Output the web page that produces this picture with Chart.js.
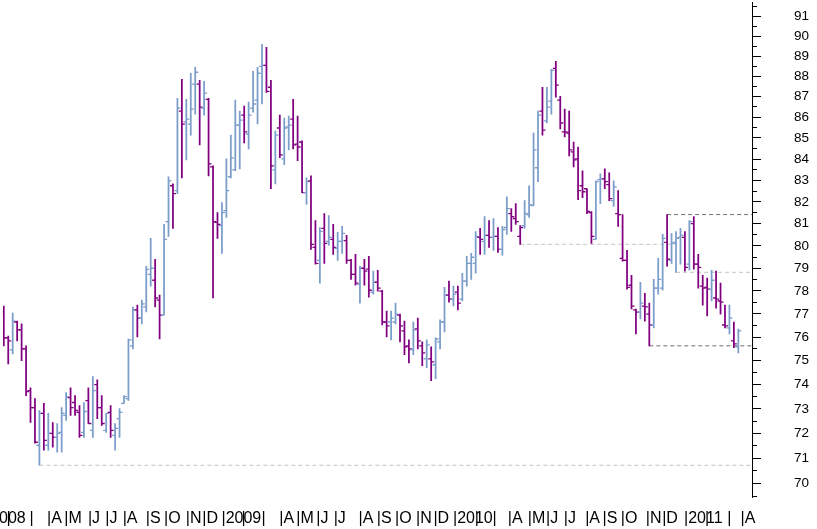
<!DOCTYPE html>
<html><head><meta charset="utf-8">
<script src="https://cdn.jsdelivr.net/npm/chart.js@4"></script>
<style>html,body{margin:0;padding:0;background:#fff;overflow:hidden}</style>
</head><body>
<canvas id="c" width="817" height="529" style="display:block;width:817px;height:529px"></canvas>
<script>
// Weekly OHLC values (one entry per week, oldest first)
const opens = [77.08,75.97,75.46,76.65,76.31,75.50,73.75,73.05,71.52,72.81,71.52,72.00,71.84,72.04,72.73,73.46,73.26,72.85,72.04,73.34,
72.12,74.00,73.05,72.12,72.85,71.92,72.60,73.22,73.42,75.63,77.17,76.82,77.30,78.73,78.47,77.60,76.95,81.10,82.75,82.52,
86.29,85.77,85.67,87.61,87.61,86.44,86.87,83.63,81.06,80.92,81.60,83.17,83.49,85.62,86.10,85.19,86.44,86.83,88.49,88.54,
87.46,83.49,85.48,84.01,85.53,85.91,84.71,84.81,82.43,82.98,79.93,79.35,80.79,80.20,80.29,79.89,80.20,80.24,79.35,78.73,
78.29,79.00,78.96,77.95,78.38,77.99,76.65,76.65,76.65,76.95,76.27,75.63,75.46,76.35,75.63,75.08,75.08,74.83,75.80,76.65,
77.82,77.64,77.95,77.64,78.43,79.22,79.22,80.38,80.20,80.47,80.38,80.43,79.84,80.83,81.46,81.24,80.43,80.92,81.42,81.83,
83.59,86.29,85.82,86.78,88.39,86.83,85.29,85.24,84.34,84.01,82.75,82.61,81.51,80.29,83.03,83.07,82.80,82.06,81.46,79.44,
79.35,78.25,77.17,77.08,77.34,76.99,76.52,78.12,78.12,80.16,79.35,80.16,80.38,80.38,79.18,81.01,79.18,78.21,78.16,78.08,
77.69,77.56,76.52,76.40,75.84,75.59];
const highs = [77.34,76.05,77.04,76.69,76.57,75.63,73.87,73.42,72.93,73.22,72.81,72.44,72.40,73.05,73.67,73.87,73.54,73.13,73.26,73.87,
74.33,74.20,73.54,72.81,73.13,72.40,73.01,73.54,75.92,77.30,77.38,77.60,79.09,80.34,79.40,77.82,80.97,83.17,82.84,86.92,
87.85,86.87,88.15,88.44,87.80,87.75,86.92,83.68,81.51,81.97,84.01,85.14,86.83,86.29,86.54,86.73,88.25,88.44,89.59,89.44,
87.80,85.33,86.10,85.96,86.05,86.87,86.05,84.86,83.12,83.21,81.15,80.83,81.47,81.37,80.97,80.61,80.88,80.47,79.40,79.62,
79.09,79.40,79.53,78.87,78.91,78.03,77.12,77.12,77.47,76.99,76.69,75.88,76.65,76.82,75.80,75.88,75.59,75.97,76.74,78.16,
78.43,78.21,78.21,78.78,79.53,79.66,80.65,80.79,81.33,81.15,81.24,80.83,80.88,82.24,81.69,81.92,80.92,82.06,82.75,85.24,
86.29,87.46,87.46,88.34,88.74,87.02,86.39,86.29,84.81,84.57,83.45,82.61,81.56,82.98,83.31,83.54,83.35,82.98,82.52,81.42,
79.80,78.69,77.21,78.38,77.90,77.47,78.51,79.44,80.52,81.42,80.56,80.65,80.79,80.65,81.15,81.33,79.62,78.69,78.56,78.91,
78.87,78.34,77.38,77.38,76.65,76.35];
const lows = [75.63,74.87,75.29,75.84,75.00,73.54,72.44,71.60,70.72,71.32,71.32,71.44,71.24,71.24,72.52,72.73,72.73,71.84,71.84,72.40,
71.84,72.60,72.32,72.04,71.84,71.32,71.84,73.22,73.34,75.50,76.01,76.57,77.08,78.21,77.30,75.92,76.95,80.43,80.79,82.38,
83.12,83.96,85.14,86.15,84.67,86.10,83.21,77.69,80.34,79.66,81.29,83.12,83.45,83.54,84.76,84.48,86.24,85.67,86.64,87.20,
82.61,82.84,84.06,83.73,84.43,84.48,83.92,82.43,81.88,79.84,79.18,78.34,79.22,80.02,79.62,79.35,79.66,79.22,78.51,78.25,
77.47,78.25,77.73,77.86,77.99,76.52,76.01,75.88,76.57,75.80,75.25,74.91,75.25,75.50,74.79,74.71,74.16,74.25,75.50,76.22,
77.51,77.34,77.17,77.56,78.21,78.51,78.78,79.62,79.62,79.93,79.80,79.71,79.58,80.52,80.65,80.97,80.07,80.79,81.29,81.83,
82.94,85.14,85.72,86.15,86.97,85.43,85.05,84.15,83.63,82.11,82.20,81.46,80.11,80.29,81.92,82.61,82.06,81.79,80.88,79.31,
78.08,77.21,76.14,76.78,76.69,75.63,76.40,77.86,78.03,79.09,79.22,78.82,79.18,78.87,78.91,78.96,78.12,77.38,76.91,77.56,
77.25,76.99,76.40,76.14,75.55,75.33];
const closes = [75.97,75.84,76.69,76.31,75.50,73.71,73.05,71.64,72.81,71.72,72.00,71.84,72.00,72.81,73.50,73.05,72.93,71.92,72.89,72.40,
73.75,73.05,72.40,72.81,72.12,72.20,72.85,73.50,75.88,77.17,76.82,77.43,78.95,79.00,77.69,76.95,80.29,82.98,82.38,86.44,
85.67,85.91,86.39,88.20,86.49,87.17,83.77,81.10,80.97,81.51,82.52,84.06,85.62,85.86,85.29,86.10,86.64,88.15,88.54,87.26,
83.68,85.14,84.20,85.48,85.62,84.67,84.57,82.43,82.94,80.07,79.22,80.65,80.11,80.38,79.93,80.20,80.56,79.35,78.73,78.34,
79.00,78.87,78.03,78.38,78.12,76.65,76.48,76.82,76.99,76.48,75.59,75.50,76.31,75.84,75.33,75.67,74.95,75.92,76.65,77.82,
77.64,77.86,77.47,78.43,79.22,79.49,80.43,80.29,80.47,80.38,80.43,79.84,80.74,81.69,81.33,81.10,80.83,81.47,81.88,84.43,
86.10,85.38,86.49,88.29,87.56,85.72,85.29,84.43,83.96,82.52,82.47,81.56,80.43,82.94,83.07,82.94,82.15,82.70,81.42,79.35,
78.16,77.34,77.08,77.47,77.30,76.52,78.12,78.51,80.34,79.40,80.11,80.34,80.47,79.04,81.10,79.18,79.04,78.12,78.08,78.47,
77.64,77.51,76.48,76.82,75.71,76.27];

// Price axis ticks (labelled) and half-unit minor ticks
const yTicks = [70,71,72,73,74,75,76,77,78,79,80,81,82,83,84,85,86,87,88,89,90,91];
const yMinorTicks = [69.5,70.5,71.5,72.5,73.5,74.5,75.5,76.5,77.5,78.5,79.5,80.5,81.5,82.5,83.5,84.5,85.5,86.5,87.5,88.5,89.5,90.5,91.5];

// Month starts, in week-index units, and their labels
const monthPos = [-4.0,0.6,5.8,9.7,13.6,18.9,22.8,26.7,31.9,36.0,40.9,44.6,
48.9,53.4,57.9,61.9,65.7,70.2,74.1,79.7,83.8,87.9,92.6,96.5,
100.9,105.8,109.8,113.2,117.7,121.8,125.8,130.6,134.5,138.6,144.2,147.9,
152.8,157.5,162.5,165.5];
const monthLabels = ['|2008','|','|','|A','|M','|J','|J','|A','|S','|O','|N','|D',
'|2009','|','|','|A','|M','|J','|J','|A','|S','|O','|N','|D',
'|2010','|','|','|A','|M','|J','|J','|A','|S','|O','|N','|D',
'|2011','|','|','|A'];

// Support / resistance levels: [start week, end week (null = right edge), price]
const lightLevels = [[8,null,70.72],[116,151,80.07],[151,null,78.82]];
const darkLevels = [[149,null,81.42],[145,null,75.63]];

const X_MIN = -0.224, X_MAX = 168.07, Y_MIN = 69.47, Y_MAX = 91.71;
const PURPLE = '#800080', BLUE = '#7b9dca';
const FONT = "'Liberation Sans', Arial, sans-serif";

const weekIdx = closes.map((_, i) => i);
const colors = closes.map((c, i) => (i === 0 ? c >= opens[0] : c >= closes[i - 1]) ? BLUE : PURPLE);

function levelDataset(lv, color) {
  return {
    type: 'line',
    data: [{x: lv[0], y: lv[2]}, {x: lv[1] === null ? X_MAX : lv[1], y: lv[2]}],
    borderColor: color, borderWidth: 1, borderDash: [4, 3],
    pointRadius: 0, fill: false, order: 5
  };
}

const datasets = [
  {
    type: 'bar',
    data: weekIdx.map(i => ({x: i, y: [lows[i], highs[i]]})),
    backgroundColor: colors, borderWidth: 0, barThickness: 1.1, grouped: false, order: 2
  },
  {
    type: 'scatter',
    data: weekIdx.map(i => ({x: i - 0.336, y: opens[i]})),
    pointStyle: 'line', pointRadius: 1.5, pointBorderWidth: 1.3, pointBorderColor: colors,
    pointHoverRadius: 1.5, order: 1
  },
  {
    type: 'scatter',
    data: weekIdx.map(i => ({x: i + 0.336, y: closes[i]})),
    pointStyle: 'line', pointRadius: 1.5, pointBorderWidth: 1.3, pointBorderColor: colors,
    pointHoverRadius: 1.5, order: 1
  },
  ...lightLevels.map(l => levelDataset(l, '#c4c4c4')),
  ...darkLevels.map(l => levelDataset(l, '#707070'))
];

new Chart(document.getElementById('c'), {
  type: 'bar',
  data: {datasets},
  options: {
    responsive: false, devicePixelRatio: 1, animation: false,
    layout: {padding: 0},
    plugins: {legend: {display: false}, tooltip: {enabled: false}},
    scales: {
      x: {
        type: 'linear', min: X_MIN, max: X_MAX, bounds: 'data', offset: false,
        afterBuildTicks: s => { s.ticks = monthPos.map(v => ({value: v})); },
        afterFit: s => { s.height = 32; s.paddingLeft = 0; s.paddingRight = 0; },
        ticks: {
          callback: (v, i) => monthLabels[i], autoSkip: false, maxRotation: 0, minRotation: 0,
          align: 'start', padding: 12, color: '#000', font: {family: FONT, size: 16}
        },
        grid: {display: false, drawTicks: false, offset: false},
        border: {display: false}
      },
      y2: {
        type: 'logarithmic', position: 'right', min: Y_MIN, max: Y_MAX, bounds: 'data', weight: 0,
        afterBuildTicks: s => { s.ticks = yMinorTicks.map(v => ({value: v})); },
        afterFit: s => { s.width = 0; s.paddingTop = 0; s.paddingBottom = 0; },
        ticks: {display: false},
        grid: {display: true, drawOnChartArea: false, drawTicks: true, tickLength: 5, tickColor: '#000', tickWidth: 1},
        border: {display: false}
      },
      y: {
        type: 'logarithmic', position: 'right', min: Y_MIN, max: Y_MAX, bounds: 'data', weight: 1,
        afterBuildTicks: s => { s.ticks = yTicks.map(v => ({value: v})); },
        afterFit: s => { s.width = 65; s.paddingTop = 0; s.paddingBottom = 0; },
        ticks: {
          callback: v => String(v), autoSkip: false, padding: 33, color: '#000',
          font: {family: FONT, size: 13.5}
        },
        grid: {display: true, drawOnChartArea: false, drawTicks: true, tickLength: 9, tickColor: '#000', tickWidth: 1},
        border: {display: true, color: '#000', width: 1}
      }
    }
  }
});
</script>
</body></html>
